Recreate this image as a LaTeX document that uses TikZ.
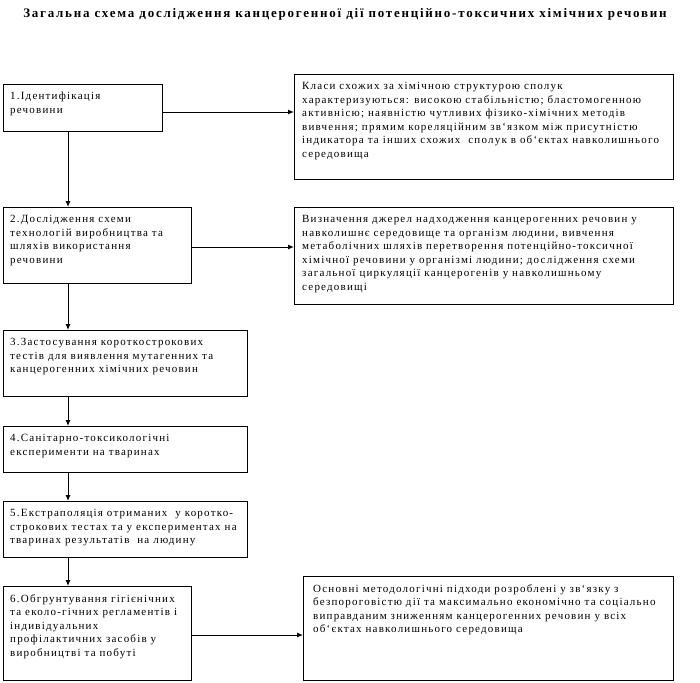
\documentclass[tikz,border=0pt]{standalone}
\usepackage{fontspec}
\setmainfont{Liberation Serif}
\newfontfamily\boxfont[LetterSpace=11]{Liberation Serif}
\newfontfamily\headfont[LetterSpace=13.5]{Liberation Serif}
\usetikzlibrary{arrows.meta}
\begin{document}
\begin{tikzpicture}[x=1pt,y=-1pt,
  frame/.style={draw, line width=1pt, rectangle, inner sep=0pt, anchor=north west},
  boxtext/.style={anchor=north west, inner sep=0pt, align=left, font=\boxfont\fontsize{11}{13.6}\selectfont},
  arr/.style={line width=1pt, -{Latex[length=6pt,width=5pt]}}]
\useasboundingbox (0,0) rectangle (700,682);
\node[font=\headfont\bfseries\fontsize{13}{15}\selectfont] (title) at (345,14) {Загальна схема дослідження канцерогенної дії потенційно-токсичних хімічних речовин};
% boxes
\node[frame, minimum width=159pt, minimum height=47pt] (b1) at (3,84) {};
\node[frame, minimum width=379pt, minimum height=105pt] (bA) at (294,74) {};
\node[frame, minimum width=188pt, minimum height=76pt] (b2) at (3,207) {};
\node[frame, minimum width=379pt, minimum height=97pt] (bB) at (294,207) {};
\node[frame, minimum width=244pt, minimum height=66pt] (b3) at (3,330) {};
\node[frame, minimum width=244pt, minimum height=46pt] (b4) at (3,426) {};
\node[frame, minimum width=244pt, minimum height=56pt] (b5) at (3,501) {};
\node[frame, minimum width=188pt, minimum height=94pt] (b6) at (3,586) {};
\node[frame, minimum width=370pt, minimum height=104pt] (bC) at (303,576) {};
% texts
\node[boxtext] (t1) at (10,92) {1.Ідентифікація\\речовини};
\node[boxtext] (tA) at (302,82) {Класи схожих за хімічною структурою сполук\\характеризуються: високою стабільністю; бластомогенною\\активнісю; наявністю чутливих фізико-хімічних методів\\вивчення; прямим кореляційним зв‘язком між присутністю\\індикатора та інших схожих\ \ сполук в об‘єктах навколишнього\\середовища};
\node[boxtext] (t2) at (10,215) {2.Дослідження схеми\\технологій виробництва та\\шляхів використання\\речовини};
\node[boxtext] (tB) at (302,215) {Визначення джерел надходження канцерогенних речовин у\\навколишнє середовище та організм людини, вивчення\\метаболічних шляхів перетворення потенційно-токсичної\\хімічної речовини у організмі людини; дослідження схеми\\загальної циркуляції канцерогенів у навколишньому\\середовищі};
\node[boxtext] (t3) at (10,338) {3.Застосування короткострокових\\тестів для виявлення мутагенних та\\канцерогенних хімічних речовин};
\node[boxtext] (t4) at (10,434) {4.Санітарно-токсикологічні\\експерименти на тваринах};
\node[boxtext] (t5) at (10,509) {5.Екстраполяція отриманих\ \ у коротко-\\строкових тестах та у експериментах на\\тваринах результатів\ \ на людину};
\node[boxtext] (t6) at (10,594) {6.Обгрунтування гігієнічних\\та еколо-гічних регламентів і\\індивідуальних\\профілактичних засобів у\\виробництві та побуті};
\node[boxtext] (tC) at (313,584) {Основні методологічні підходи розроблені у зв‘язку з\\безпороговістю дії та максимально економічно та соціально\\виправданим зниженням канцерогенних речовин у всіх\\об‘єктах навколишнього середовища};
% connector guides
\coordinate (vx) at (68,0);
\coordinate (hA) at (0,112);
\coordinate (hB) at (0,247);
\coordinate (hC) at (0,635);
% vertical arrows
\draw[arr] (b1.south -| vx) -- (b2.north -| vx);
\draw[arr] (b2.south -| vx) -- (b3.north -| vx);
\draw[arr] (b3.south -| vx) -- (b4.north -| vx);
\draw[arr] (b4.south -| vx) -- (b5.north -| vx);
\draw[arr] (b5.south -| vx) -- (b6.north -| vx);
% horizontal arrows
\draw[arr] (hA -| b1.east) -- (hA -| bA.west);
\draw[arr] (hB -| b2.east) -- (hB -| bB.west);
\draw[arr] (hC -| b6.east) -- (hC -| bC.west);
\end{tikzpicture}
\end{document}
